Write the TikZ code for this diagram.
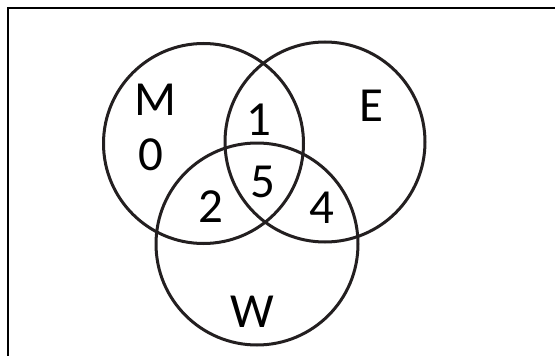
\documentclass[tikz,border=0pt]{standalone}
\usepackage{fontspec}
\setmainfont{Carlito}
\definecolor{ink}{HTML}{231F20}
\begin{document}
\begin{tikzpicture}[x=1pt,y=1pt,
  setcircle/.style={circle, draw=ink, line width=3pt, minimum size=200pt, inner sep=0pt},
  lbl/.style={font=\fontsize{49}{49}\selectfont, text=black, inner sep=0pt}]
\useasboundingbox (0,0) rectangle (555,-356);
\draw[line width=2.8pt, black] (8,-357) -- (8,-8) -- (556,-8);
\node[setcircle] (M) at (203.5,-143.5) {};
\node[setcircle] (E) at (325,-142) {};
\node[setcircle, minimum size=202pt] (W) at (257,-244) {};
\node[lbl] (lM) at (155,-100) {M};
\node[lbl] (l0) at (151,-155) {0};
\node[lbl] (l1) at (259,-120) {1};
\node[lbl] (lE) at (371,-106) {E};
\node[lbl] (l5) at (263,-182) {5};
\node[lbl] (l2) at (211,-207) {2};
\node[lbl] (l4) at (322,-208) {4};
\node[lbl] (lW) at (252,-312) {W};
\end{tikzpicture}
\end{document}
